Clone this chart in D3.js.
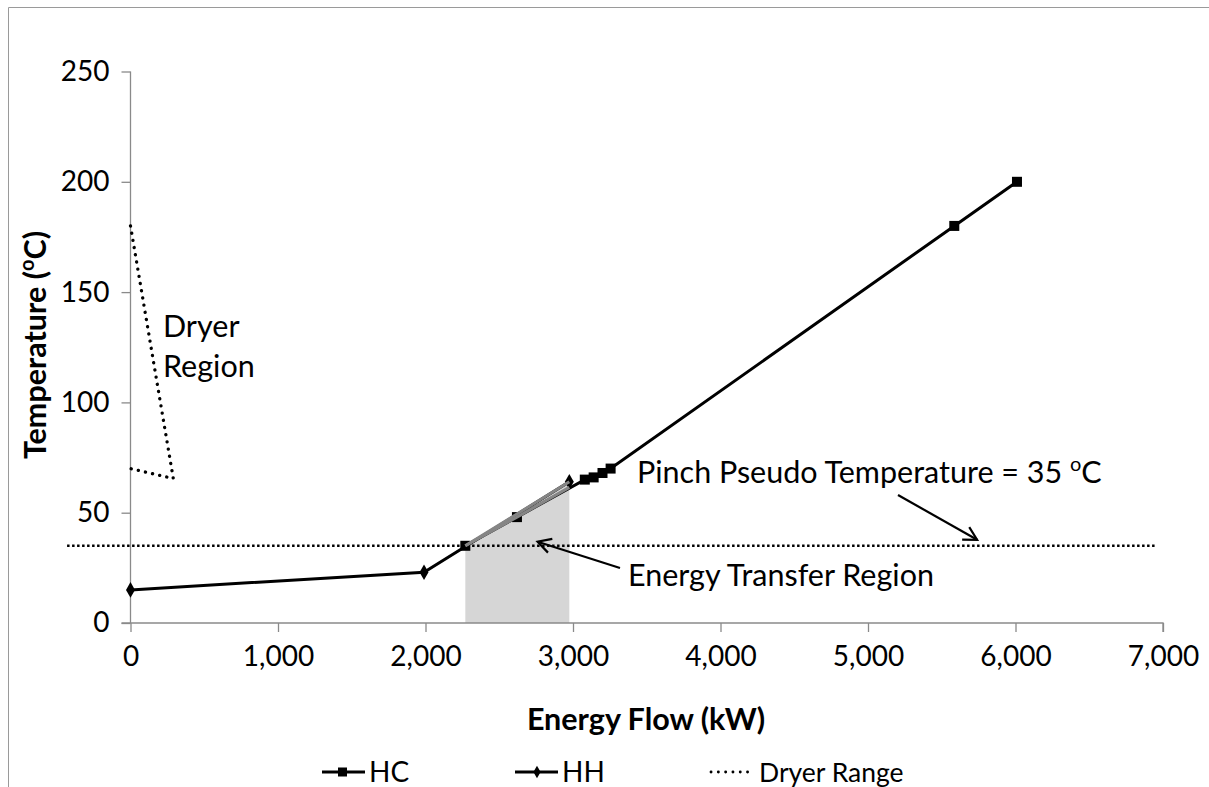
<!DOCTYPE html>
<html>
<head>
<meta charset="utf-8">
<script src="https://cdn.jsdelivr.net/npm/d3@7"></script>
<style>
  html, body { margin: 0; padding: 0; background: #fff; }
  svg { display: block; font-family: Lato, "Open Sans", sans-serif; }
</style>
</head>
<body>
<svg id="chart" width="1209" height="787"></svg>
<script>
// Composite curves: energy flow (kW) vs temperature (°C)
const hcFlow = [2270, 2620, 3080, 3140, 3200, 3255, 5585, 6010];
const hcTemp = [35, 48, 65, 66, 68, 70, 180, 200];

const hhFlow = [0, 1990, 2975];
const hhTemp = [15, 23, 64];

const dryerFlow = [0, 290, 0];
const dryerTemp = [180, 65.5, 70];

// Overlay segments bounding the energy transfer region
const transferUpperFlow = [2270, 2975];
const transferUpperTemp = [35, 64];
const transferLowerFlow = [2270, 2620, 2975];
const transferLowerTemp = [35, 48, 61.5];

// Pinch line
const pinchTemp = 35;
const pinchFlowRange = [-430, 6950];

const xTicks = [0, 1000, 2000, 3000, 4000, 5000, 6000, 7000];
const yTicks = [0, 50, 100, 150, 200, 250];

const legendLabels = ["HC", "HH", "Dryer Range"];

const zip = (xs, ys) => xs.map((v, i) => [v, ys[i]]);

const svg = d3.select("#chart");
const x = d3.scaleLinear().domain([0, 7000]).range([130.5, 1163]);
const y = d3.scaleLinear().domain([0, 250]).range([623, 71.5]);

const axisColor = "#8a8a8a";
const fs = 28;     // tick labels
const fsA = 30.5;  // annotations and titles

// outer frame (top and left edges visible)
svg.append("path")
  .attr("d", "M8.5,787 L8.5,7.5 L1209,7.5")
  .attr("fill", "none").attr("stroke", "#9a9a9a").attr("stroke-width", 1);

// energy transfer region fill
const area = d3.area().x(d => x(d[0])).y0(y(0)).y1(d => y(d[1]));
svg.append("path")
  .datum(zip(transferUpperFlow, transferUpperTemp))
  .attr("d", area)
  .attr("fill", "#d6d6d6");

// axes
const yAxis = svg.append("g")
  .attr("transform", `translate(${x(0)},0)`)
  .call(d3.axisLeft(y).tickValues(yTicks).tickSize(9).tickPadding(12).tickFormat(d3.format("d")));
const xAxis = svg.append("g")
  .attr("transform", `translate(0,${y(0)})`)
  .call(d3.axisBottom(x).tickValues(xTicks).tickSize(9).tickPadding(14).tickFormat(d3.format(",")));
[xAxis, yAxis].forEach(g => {
  g.select(".domain").attr("stroke", axisColor).attr("stroke-width", 1.3);
  g.selectAll(".tick line").attr("stroke", axisColor).attr("stroke-width", 1.3);
  g.selectAll(".tick text").attr("fill", "#000").style("font-size", fs + "px").style("font-family", "Lato, sans-serif");
});
xAxis.select(".domain").attr("d", `M${x(0) - 9},0H${x(7000)}V9`);
yAxis.select(".domain").attr("d", `M0,${y(250)}V${y(0)}`);

// pinch line
svg.append("line")
  .attr("x1", x(pinchFlowRange[0])).attr("x2", x(pinchFlowRange[1]))
  .attr("y1", y(pinchTemp)).attr("y2", y(pinchTemp))
  .attr("stroke", "#000").attr("stroke-width", 2.5).attr("stroke-dasharray", "2.5,2.5");

const line = d3.line().x(d => x(d[0])).y(d => y(d[1]));

// dryer range
svg.append("path")
  .datum(zip(dryerFlow, dryerTemp))
  .attr("d", line)
  .attr("fill", "none").attr("stroke", "#000").attr("stroke-width", 3.3)
  .attr("stroke-dasharray", "0.1,7.2").attr("stroke-linecap", "round");

// HH curve
svg.append("path")
  .datum(zip(hhFlow, hhTemp))
  .attr("d", line)
  .attr("fill", "none").attr("stroke", "#000").attr("stroke-width", 3);
svg.append("g").selectAll("path")
  .data(zip(hhFlow, hhTemp))
  .join("path")
  .attr("d", d3.symbol(d3.symbolDiamond, 70))
  .attr("transform", d => `translate(${x(d[0])},${y(d[1])})`)
  .attr("fill", "#000");

// HC curve
svg.append("path")
  .datum(zip(hcFlow, hcTemp))
  .attr("d", line)
  .attr("fill", "none").attr("stroke", "#000").attr("stroke-width", 3);
svg.append("g").selectAll("rect")
  .data(zip(hcFlow, hcTemp))
  .join("rect")
  .attr("x", d => x(d[0]) - 5).attr("y", d => y(d[1]) - 5)
  .attr("width", 10).attr("height", 10)
  .attr("fill", "#000");

// transfer region boundaries
[[transferUpperFlow, transferUpperTemp], [transferLowerFlow, transferLowerTemp]].forEach(([f, t]) => {
  svg.append("path")
    .datum(zip(f, t))
    .attr("d", line)
    .attr("fill", "none").attr("stroke", "#858585").attr("stroke-width", 3)
    .attr("stroke-linejoin", "round");
});

// arrows
function arrow(x1, y1, x2, y2) {
  svg.append("line").attr("x1", x1).attr("y1", y1).attr("x2", x2).attr("y2", y2)
    .attr("stroke", "#000").attr("stroke-width", 2.2);
  const a = Math.atan2(y2 - y1, x2 - x1), L = 15, w = 0.5;
  const p1 = [x2 - L * Math.cos(a - w), y2 - L * Math.sin(a - w)];
  const p2 = [x2 - L * Math.cos(a + w), y2 - L * Math.sin(a + w)];
  svg.append("path")
    .attr("d", `M${p1[0]},${p1[1]}L${x2},${y2}L${p2[0]},${p2[1]}`)
    .attr("fill", "none").attr("stroke", "#000").attr("stroke-width", 2.2)
    .attr("stroke-linejoin", "miter");
}
arrow(898, 495, x(5740), y(pinchTemp) - 6);
arrow(620, 568, x(2760), y(pinchTemp) - 4);

// annotation text
const txt = (t, xx, yy, opts = {}) => svg.append("text")
  .attr("x", xx).attr("y", yy)
  .attr("text-anchor", opts.anchor || "start")
  .style("font-size", (opts.size || fsA) + "px")
  .style("font-weight", opts.bold ? "bold" : "normal")
  .attr("fill", "#000")
  .text(t);

txt("Dryer", 163, 337);
txt("Region", 163, 377);

const pinch = txt("Pinch Pseudo Temperature = 35 ", 637, 483);
pinch.append("tspan").attr("dy", -12).style("font-size", "20px").text("o");
pinch.append("tspan").attr("dy", 12).text("C");

txt("Energy Transfer Region", 628, 586);

// axis titles
txt("Energy Flow (kW)", 646, 730, { anchor: "middle", bold: true });
const yt = svg.append("text")
  .attr("transform", "translate(46,345) rotate(-90)")
  .attr("text-anchor", "middle")
  .style("font-size", fsA + "px").style("font-weight", "bold").attr("fill", "#000")
  .text("Temperature (");
yt.append("tspan").attr("dy", -12).style("font-size", "20px").text("o");
yt.append("tspan").attr("dy", 12).text("C)");

// legend
const ly = 772;
const lg = svg.append("g");
// HC
lg.append("line").attr("x1", 322).attr("x2", 365).attr("y1", ly).attr("y2", ly).attr("stroke", "#000").attr("stroke-width", 3);
lg.append("rect").attr("x", 338).attr("y", ly - 4.5).attr("width", 9).attr("height", 9).attr("fill", "#000");
txt(legendLabels[0], 369, 782, { size: 28 });
// HH
lg.append("line").attr("x1", 515).attr("x2", 558).attr("y1", ly).attr("y2", ly).attr("stroke", "#000").attr("stroke-width", 3);
lg.append("path").attr("d", d3.symbol(d3.symbolDiamond, 45)).attr("transform", `translate(537,${ly})`).attr("fill", "#000");
txt(legendLabels[1], 562, 782, { size: 28 });
// Dryer Range
lg.append("line").attr("x1", 711).attr("x2", 754).attr("y1", ly).attr("y2", ly)
  .attr("stroke", "#000").attr("stroke-width", 2.8).attr("stroke-dasharray", "0.1,7.2").attr("stroke-linecap", "round");
txt(legendLabels[2], 759, 782, { size: 26.5 });
</script>
</body>
</html>
